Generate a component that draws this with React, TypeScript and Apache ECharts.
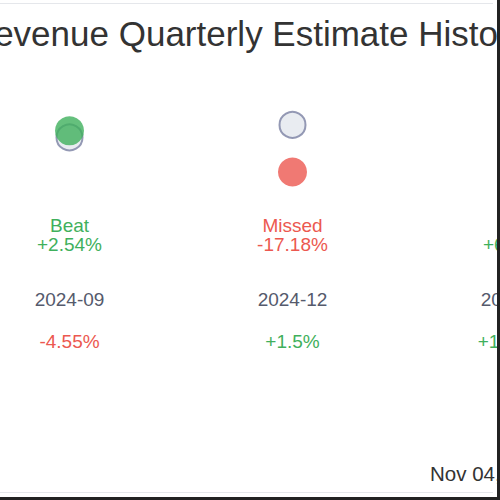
import React, { useEffect, useRef } from "react";
import * as echarts from "echarts";

const categories = ["2024-09", "2024-12", "2025-03"];
const estimates = [95.43, 100, 96];
const actuals = [97.85, 82.82, 102.1];
const statusLabels = ["Beat", "Missed", "Beat"];
const surpriseLabels = ["+2.54%", "-17.18%", "+6.35%"];
const changeLabels = ["-4.55%", "+1.5%", "+14.75%"];
const titleText = "Revenue Quarterly Estimate History";
const dateText = "Nov 04, 2025";

const GREEN = "#3fb05c";
const RED = "#ec5850";
const FONT = "'Liberation Sans', Arial, sans-serif";

const isPositive = (s: string) => s.trim().startsWith("+");

export default function App() {
  const ref = useRef<HTMLDivElement>(null);
  useEffect(() => {
    if (!ref.current) return;
    const chart = echarts.init(ref.current, null, { renderer: "svg" });
    const baseAxis = {
      type: "category" as const,
      data: categories,
      position: "bottom" as const,
      axisLine: { show: false },
      axisTick: { show: false },
      splitLine: { show: false },
    };
    const richStyles = {
      g: { color: GREEN, fontSize: 19, lineHeight: 19, fontFamily: FONT },
      r: { color: RED, fontSize: 19, lineHeight: 19, fontFamily: FONT },
    };
    chart.setOption({
      animation: false,
      backgroundColor: "#ffffff",
      textStyle: { fontFamily: FONT },
      grid: {
        left: -42,
        width: 669,
        top: 97.6,
        height: 112.2,
        containLabel: false,
        outerBoundsMode: "none",
      },
      xAxis: [
        {
          ...baseAxis,
          axisLabel: {
            interval: 0,
            margin: 6.5,
            formatter: (_v: string, i: number) => {
              const c = statusLabels[i] === "Missed" ? "r" : "g";
              return `{${c}|${statusLabels[i]}}\n{${c}|${surpriseLabels[i]}}`;
            },
            rich: richStyles,
          },
        },
        {
          ...baseAxis,
          offset: 74,
          axisLabel: {
            interval: 0,
            margin: 6.5,
            color: "#555a6c",
            fontSize: 19,
            lineHeight: 19,
            fontFamily: FONT,
          },
        },
        {
          ...baseAxis,
          offset: 116,
          axisLabel: {
            interval: 0,
            margin: 6.5,
            formatter: (_v: string, i: number) => {
              const c = isPositive(changeLabels[i]) ? "g" : "r";
              return `{${c}|${changeLabels[i]}}`;
            },
            rich: richStyles,
          },
        },
      ],
      yAxis: {
        type: "value",
        min: 69,
        max: 110,
        show: false,
      },
      series: [
        {
          type: "scatter",
          name: "Estimate",
          xAxisIndex: 0,
          symbolSize: 26,
          itemStyle: { color: "#e4e7ee", borderColor: "#7b81a2", borderWidth: 2 },
          data: estimates,
          z: 2,
        },
        {
          type: "scatter",
          name: "Actual",
          xAxisIndex: 0,
          symbolSize: 29,
          data: actuals.map((v, i) => ({
            value: v,
            itemStyle: { color: v >= estimates[i] ? GREEN : RED },
          })),
          z: 3,
        },
      ],
      graphic: [
        {
          type: "line",
          shape: { x1: 0, y1: 3.5, x2: 493, y2: 3.5 },
          style: { stroke: "#e5e7eb", lineWidth: 1 },
        },
        {
          type: "line",
          shape: { x1: 0, y1: 492.5, x2: 493, y2: 492.5 },
          style: { stroke: "#e5e7eb", lineWidth: 1 },
        },
        {
          type: "text",
          x: 248,
          y: 33,
          style: {
            text: titleText,
            font: `35px ${FONT}`,
            fill: "#333333",
            textAlign: "center",
            textVerticalAlign: "middle",
          },
        },
        {
          type: "text",
          x: 430,
          y: 473,
          style: {
            text: dateText,
            font: `20.5px ${FONT}`,
            fill: "#333333",
            textAlign: "left",
            textVerticalAlign: "middle",
          },
        },
        {
          type: "rect",
          shape: { x: 497, y: 0, width: 3, height: 500 },
          style: { fill: "#222222" },
          z: 100,
        },
        {
          type: "rect",
          shape: { x: 0, y: 497, width: 500, height: 3 },
          style: { fill: "#222222" },
          z: 100,
        },
      ],
    });
    return () => chart.dispose();
  }, []);
  return (
    <div
      ref={ref}
      style={{ position: "absolute", left: 0, top: 0, width: 500, height: 500, overflow: "hidden" }}
    />
  );
}
